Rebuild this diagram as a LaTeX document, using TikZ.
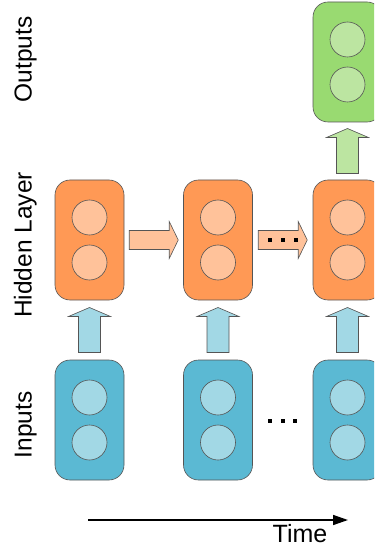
\documentclass[tikz,border=0pt]{standalone}
\usepackage{fontspec}
\setmainfont{Liberation Sans}
\usetikzlibrary{calc,arrows.meta}
\definecolor{orangebox}{HTML}{FF9955}
\definecolor{orangelight}{HTML}{FFC29A}
\definecolor{bluebox}{HTML}{5BB9D3}
\definecolor{bluelight}{HTML}{A2D8E5}
\definecolor{greenbox}{HTML}{99DA71}
\definecolor{greenlight}{HTML}{BCE5A1}
\definecolor{outl}{HTML}{555555}
\begin{document}
\begin{tikzpicture}[x=1bp,y=-1bp,
  layerbox/.style={draw=outl,line width=0.6bp,rectangle,rounded corners=15bp,minimum width=69bp,minimum height=120bp,inner sep=0},
  unit/.style={draw=outl,line width=0.6bp,circle,minimum size=35bp,inner sep=0},
  lbl/.style={font=\fontsize{24.5bp}{29bp}\selectfont,rotate=90,anchor=base,inner sep=0},
  blockarr/.style={draw=outl,line width=0.6bp},
  uparr/.pic={\draw[pic actions] (0,-22.5) -- (21,-13.5) -- (11,-13.5) -- (11,22.5) -- (-11,22.5) -- (-11,-13.5) -- (-21,-13.5) -- cycle;},
  rightarr/.pic={\draw[pic actions] (24.5,0) -- (15.5,-18.5) -- (15.5,-9.5) -- (-24.5,-9.5) -- (-24.5,9.5) -- (15.5,9.5) -- (15.5,18.5) -- cycle;}
]
\useasboundingbox (0,0) rectangle (374,546);
\clip (0,0) rectangle (374,546);

% labels
\node[lbl] (lo) at (31.5,59.5) {Outputs};
\node[lbl] (lh) at (31.5,245) {Hidden Layer};
\node[lbl] (li) at (31.5,425) {Inputs};

% output
\node[layerbox,fill=greenbox] (o3) at (347.5,62) {};
\node[unit,fill=greenlight] (o3a) at ($(o3.center)+(0,-22.5)$) {};
\node[unit,fill=greenlight] (o3b) at ($(o3.center)+(0,22.5)$) {};

% hidden
\foreach \i/\x in {1/89.5,2/218,3/347.5}{
  \node[layerbox,fill=orangebox] (h\i) at (\x,240) {};
  \node[unit,fill=orangelight] (h\i a) at ($(h\i.center)+(0,-22.5)$) {};
  \node[unit,fill=orangelight] (h\i b) at ($(h\i.center)+(0,22.5)$) {};
  \node[layerbox,fill=bluebox] (x\i) at (\x,420) {};
  \node[unit,fill=bluelight] (x\i a) at ($(x\i.center)+(0,-22.5)$) {};
  \node[unit,fill=bluelight] (x\i b) at ($(x\i.center)+(0,22.5)$) {};
  \pic[blockarr,fill=bluelight] at ($(x\i.north)!0.5!(h\i.south)$) {uparr};
}
\pic[blockarr,fill=greenlight] at ($(h3.north)!0.5!(o3.south)$) {uparr};
\pic[blockarr,fill=orangelight] at ($(h1.east)!0.5!(h2.west)$) {rightarr};
\pic[blockarr,fill=orangelight] at ($(h2.east)!0.5!(h3.west)$) {rightarr};

% dots
\coordinate (hm) at ($(h2.east)!0.5!(h3.west)$);
\foreach \dx in {-13,0,13}{
  \fill ($(hm)+(\dx-2,-2)$) rectangle ++(4,4);
}
\coordinate (xm) at ($(x2.east)!0.5!(x3.west)$);
\foreach \dx in {-12.5,0,12.5}{
  \fill ($(xm)+(\dx-2,-1)$) rectangle ++(4,4);
}

% time
\coordinate (t0) at (88,520);
\coordinate (t1) at (348,520);
\draw[line width=1.5bp,-{Triangle[length=15bp,width=10bp]}] (t0) -- (t1);
\node[font=\fontsize{25bp}{30bp}\selectfont,anchor=base,inner sep=0] (tl) at (300,542) {Time};
\end{tikzpicture}
\end{document}
